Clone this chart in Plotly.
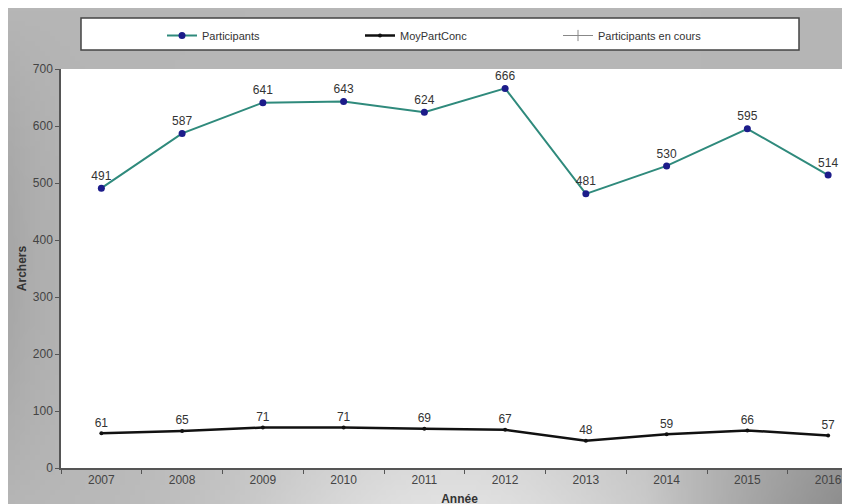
import base64
import struct
import zlib

import numpy as np
import plotly.graph_objects as go

# data
annees = ["2007", "2008", "2009", "2010", "2011", "2012", "2013", "2014", "2015", "2016"]
participants = [491, 587, 641, 643, 624, 666, 481, 530, 595, 514]
moy_part_conc = [61, 65, 71, 71, 69, 67, 48, 59, 66, 57]
participants_en_cours = [None] * len(annees)

W, H = 850, 504
ML, MR, MT, MB = 53, 0, 61, 44
PW, PH = W - ML - MR, H - MT - MB

FONT = "Liberation Sans, Arial, sans-serif"


def gradient_png(w, h):
    # grey background: even at the top, darker on the left, light spot low in the middle
    yy, xx = np.mgrid[0:h, 0:w]
    x = xx / (w - 1)
    t = yy / (h - 1)
    v = 182 - 15 * np.exp(-x / 0.05) * np.sin(np.pi * t)
    v = v + t ** 2 * (45 * np.exp(-((x - 0.52) / 0.26) ** 2) - 45 * np.clip((x - 0.75) / 0.25, 0, 1))
    v = np.clip(v, 0, 255).astype(np.uint8)
    raw = b"".join(b"\x00" + row.tobytes() for row in v)

    def chunk(tag, data):
        c = struct.pack(">I", len(data)) + tag + data
        return c + struct.pack(">I", zlib.crc32(tag + data) & 0xFFFFFFFF)

    png = b"\x89PNG\r\n\x1a\n"
    png += chunk(b"IHDR", struct.pack(">IIBBBBB", w, h, 8, 0, 0, 0, 0))
    png += chunk(b"IDAT", zlib.compress(raw, 9))
    png += chunk(b"IEND", b"")
    return "data:image/png;base64," + base64.b64encode(png).decode()


fig = go.Figure()

fig.add_trace(go.Scatter(
    x=annees, y=participants, name="Participants",
    mode="lines+markers+text",
    line=dict(color="#2f8a7c", width=2),
    marker=dict(color="#1c1c8a", size=7),
    text=[str(v) for v in participants], textposition="top center",
    textfont=dict(family=FONT, size=12, color="#333333"),
))
fig.add_trace(go.Scatter(
    x=annees, y=moy_part_conc, name="MoyPartConc",
    mode="lines+markers+text",
    line=dict(color="#111111", width=2.5),
    marker=dict(color="#111111", size=4),
    text=[str(v) for v in moy_part_conc], textposition="top center",
    textfont=dict(family=FONT, size=12, color="#333333"),
))
fig.add_trace(go.Scatter(
    x=annees, y=participants_en_cours, name="Participants en cours",
    mode="lines+markers",
    line=dict(color="#888888", width=1),
    marker=dict(color="#888888", size=8, symbol="cross-thin", line=dict(width=1, color="#888888")),
))

# white plot area (the background picture sits above plot_bgcolor)
fig.add_shape(
    type="rect", xref="paper", yref="paper", x0=0, x1=1, y0=0, y1=1,
    fillcolor="white", line=dict(width=0), layer="below",
)
# legend frame drawn as a shape so it can be wider than the entries
fig.add_shape(
    type="rect", xref="paper", yref="paper",
    x0=(73 - ML) / PW, x1=(791 - ML) / PW,
    y0=1 + (MT - 42) / PH, y1=1 + (MT - 10) / PH,
    fillcolor="white", line=dict(color="#444444", width=1.5), layer="below",
)

fig.add_layout_image(
    source=gradient_png(170, 101), xref="paper", yref="paper",
    x=-ML / PW, y=1 + MT / PH, sizex=W / PW, sizey=H / PH,
    xanchor="left", yanchor="top", sizing="stretch", layer="below",
)

fig.update_layout(
    width=W, height=H,
    margin=dict(l=ML, r=MR, t=MT, b=MB),
    paper_bgcolor="#b6b6b6", plot_bgcolor="white",
    font=dict(family=FONT, size=11, color="#333333"),
    showlegend=True,
    legend=dict(
        orientation="h", x=(154 - ML) / PW, y=1 + (MT - 13) / PH,
        xanchor="left", yanchor="top",
        bgcolor="rgba(0,0,0,0)", borderwidth=0,
        entrywidth=153, entrywidthmode="pixels",
        font=dict(family=FONT, size=11, color="#333333"),
    ),
    xaxis=dict(
        type="category", range=[-0.5, 9.37],
        showgrid=False, showline=True, linecolor="#555555", linewidth=1.5,
        ticks="outside", tickson="boundaries", ticklen=4, tickcolor="#555555",
        tickfont=dict(size=12, color="#444444"),
        title=dict(text="<b>Année</b>", font=dict(size=12, color="#333333"), standoff=8),
    ),
    yaxis=dict(
        range=[0, 700], dtick=100,
        showgrid=False, zeroline=False, showline=True, linecolor="#555555", linewidth=1.5,
        ticks="outside", ticklen=4, tickcolor="#555555",
        tickfont=dict(size=12, color="#444444"),
        title=dict(text="<b>Archers</b>", font=dict(size=12, color="#333333"), standoff=4),
    ),
)

fig.write_html("out.html")
